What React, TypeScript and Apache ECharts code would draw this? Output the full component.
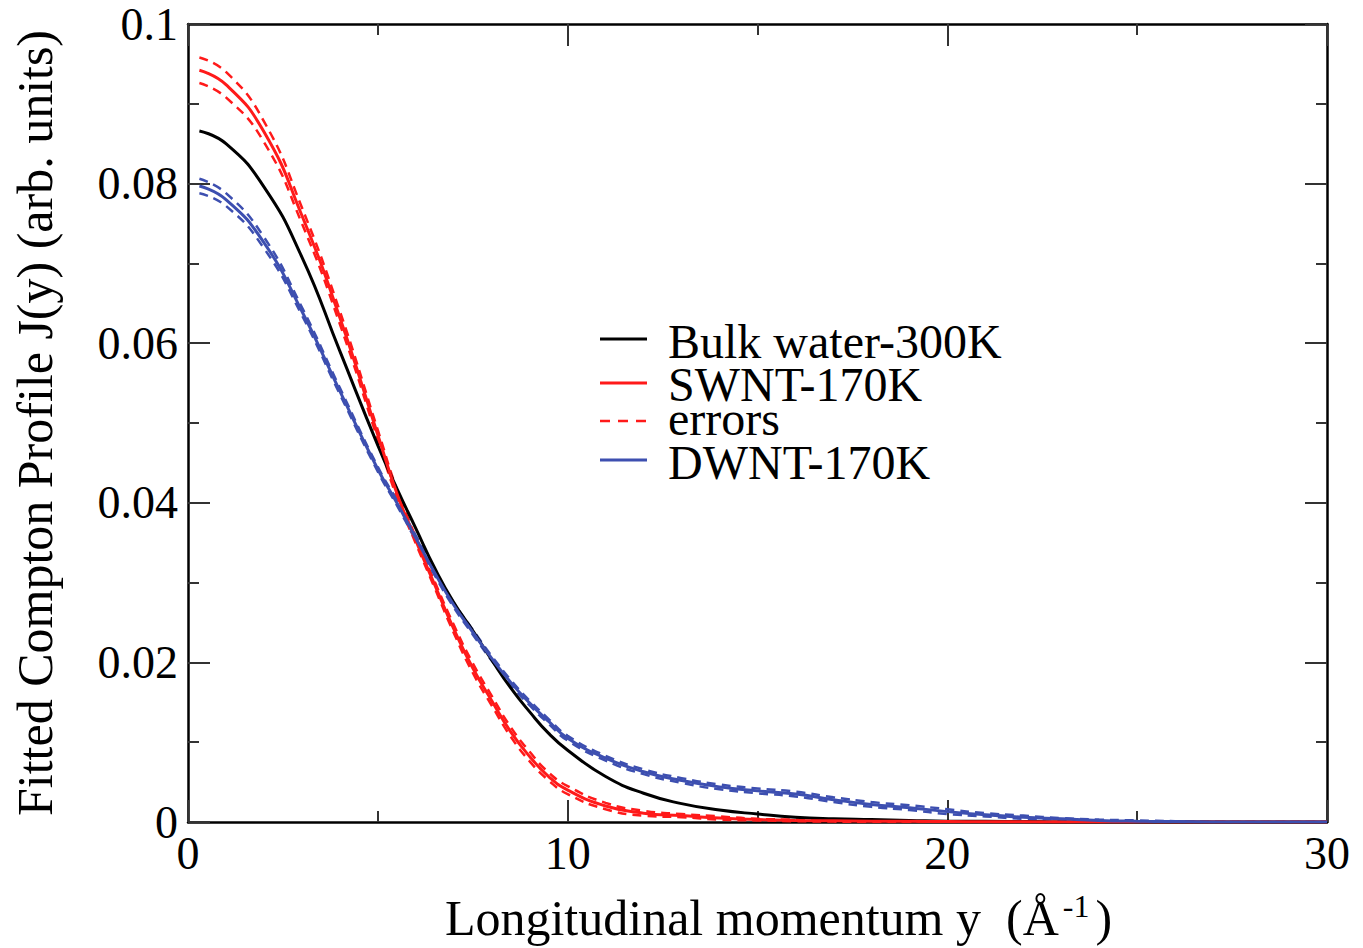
import React, { useEffect, useRef } from "react";
import * as echarts from "echarts";

// Longitudinal momentum y (Å^-1) at which the fitted profiles are sampled
const momentum = [0.3, 1, 2, 3, 4, 5, 5.5, 6, 6.5, 7, 7.5, 8, 8.5, 9, 9.5, 10, 11, 12, 13, 14, 15, 16, 17, 18, 19, 20, 21, 22, 23, 24, 25, 26, 28, 30];

// Fitted Compton profiles J(y)
const bulkWater300K = [0.0866, 0.085, 0.0796, 0.0708, 0.059, 0.0472, 0.0418, 0.0368, 0.0318, 0.0275, 0.024, 0.0203, 0.0168, 0.0138, 0.0111, 0.009, 0.0057, 0.0036, 0.0023, 0.0015, 0.001, 0.0006, 0.0004, 0.0003, 0.0002, 0.0001, 0.0001, 0.00005, 0, 0, 0, 0, 0, 0];
const swnt170K = [0.0942, 0.0924, 0.0865, 0.076, 0.0632, 0.0485, 0.0412, 0.0353, 0.0297, 0.0242, 0.0193, 0.0152, 0.0113, 0.0082, 0.0057, 0.004, 0.002, 0.0011, 0.0008, 0.0005, 0.0003, 0.0002, 0.00015, 0.0001, 0.00008, 0.00005, 0.00003, 0.00002, 0, 0, 0, 0, 0, 0];
const swntUpper = [0.0958, 0.094, 0.0878, 0.077, 0.064, 0.0491, 0.0417, 0.0357, 0.0301, 0.0247, 0.0199, 0.0158, 0.0119, 0.0088, 0.0062, 0.0045, 0.0024, 0.0014, 0.001, 0.0007, 0.0004, 0.0003, 0.0002, 0.00015, 0.0001, 0.0001, 0.00005, 0.00003, 0, 0, 0, 0, 0, 0];
const swntLower = [0.0926, 0.0908, 0.0852, 0.075, 0.0624, 0.0479, 0.0407, 0.0349, 0.0293, 0.0237, 0.0187, 0.0146, 0.0107, 0.0076, 0.0052, 0.0035, 0.0016, 0.0008, 0.0006, 0.0003, 0.0002, 0.0001, 0.00005, 0, 0, 0, 0, 0, 0, 0, 0, 0, 0, 0];
const dwnt170K = [0.0797, 0.078, 0.0726, 0.064, 0.054, 0.0442, 0.04, 0.0356, 0.0312, 0.0272, 0.0238, 0.0205, 0.0175, 0.0149, 0.0126, 0.0105, 0.008, 0.0063, 0.0052, 0.0044, 0.0039, 0.0035, 0.0028, 0.0022, 0.0018, 0.0013, 0.0009, 0.0006, 0.0004, 0.0002, 0.0001, 0.00005, 0, 0];
const dwntUpper = [0.0806, 0.0788, 0.0733, 0.0645, 0.0544, 0.0445, 0.0403, 0.0359, 0.0315, 0.0275, 0.0241, 0.0208, 0.0178, 0.0152, 0.0129, 0.0108, 0.0083, 0.0066, 0.0055, 0.0047, 0.0042, 0.0038, 0.0031, 0.0025, 0.0021, 0.0016, 0.0011, 0.0008, 0.0005, 0.0003, 0.0002, 0.0001, 0, 0];
const dwntLower = [0.0788, 0.0772, 0.0719, 0.0635, 0.0536, 0.0439, 0.0397, 0.0353, 0.0309, 0.0269, 0.0235, 0.0202, 0.0172, 0.0146, 0.0123, 0.0102, 0.0077, 0.006, 0.0049, 0.0041, 0.0036, 0.0032, 0.0025, 0.0019, 0.0015, 0.001, 0.0007, 0.0004, 0.0003, 0.0001, 0, 0, 0, 0];

const FONT = '"Liberation Serif", "Times New Roman", serif';
const BLACK = "#000000";
const RED = "#ff1a1a";
const BLUE = "#3d4fb0";

const toPairs = (ys: number[]) => momentum.map((x, i) => [x, ys[i]]);

const frameAxis = (extra: any) => ({
  type: "value",
  axisLine: { show: true, onZero: false, lineStyle: { color: BLACK, width: 2.5 } },
  axisTick: { show: true, inside: true, length: 22, lineStyle: { color: "#333", width: 2 } },
  minorTick: { show: true, inside: true, splitNumber: 2, length: 11, lineStyle: { color: "#333", width: 2 } },
  splitLine: { show: false },
  minorSplitLine: { show: false },
  ...extra,
});

const line = (name: string, ys: number[], color: string, dashed: boolean) => ({
  name,
  type: "line",
  data: toPairs(ys),
  showSymbol: false,
  symbol: "none",
  smooth: 0.5,
  lineStyle: { color, width: dashed ? 2.5 : 3, type: dashed ? [9, 6] : "solid" },
  itemStyle: { color },
  z: dashed ? 2 : 3,
});

// legend entries are drawn by hand so their rows keep the uneven spacing of the plot
const legendText = (text: string, y: number) => ({
  type: "text",
  x: 668,
  y,
  style: { text, fontFamily: FONT, fontSize: 48, lineHeight: 30, fill: BLACK, verticalAlign: "middle" },
});

export default function App() {
  const ref = useRef<HTMLDivElement>(null);

  useEffect(() => {
    const chart = echarts.init(ref.current as HTMLDivElement, null, { renderer: "svg" });
    const xCommon = { min: 0, max: 30, interval: 10 };
    const yCommon = { min: 0, max: 0.1, interval: 0.02 };

    chart.setOption({
      animation: false,
      backgroundColor: "#ffffff",
      grid: { left: 188, right: 36, top: 24, bottom: 125, containLabel: false },
      xAxis: [
        frameAxis({
          ...xCommon,
          position: "bottom",
          axisLabel: { fontFamily: FONT, fontSize: 46, color: BLACK, margin: 8 },
          name: "{t|Longitudinal momentum y  (Å}{s|-1}{t|)}",
          nameLocation: "middle",
          nameGap: 68,
          nameTextStyle: {
            padding: [0, 0, 0, 42],
            rich: {
              t: { fontFamily: FONT, fontSize: 50, color: BLACK, lineHeight: 56 },
              s: { fontFamily: FONT, fontSize: 32, color: BLACK, verticalAlign: "top", padding: [0, 6, 0, 4] },
            },
          },
        }),
        frameAxis({ ...xCommon, position: "top", axisLabel: { show: false } }),
      ],
      yAxis: [
        frameAxis({
          ...yCommon,
          position: "left",
          axisLabel: {
            fontFamily: FONT,
            fontSize: 46,
            color: BLACK,
            margin: 10,
            formatter: (v: number) => String(+v.toFixed(2)),
          },
          name: "Fitted Compton Profile J(y) (arb. units)",
          nameLocation: "middle",
          nameGap: 128,
          nameTextStyle: { fontFamily: FONT, fontSize: 50, color: BLACK },
        }),
        frameAxis({ ...yCommon, position: "right", axisLabel: { show: false } }),
      ],
      series: [
        line("SWNT-170K errors upper", swntUpper, RED, true),
        line("SWNT-170K errors lower", swntLower, RED, true),
        line("DWNT-170K errors upper", dwntUpper, BLUE, true),
        line("DWNT-170K errors lower", dwntLower, BLUE, true),
        line("Bulk water-300K", bulkWater300K, BLACK, false),
        line("SWNT-170K", swnt170K, RED, false),
        line("DWNT-170K", dwnt170K, BLUE, false),
      ],
      graphic: [
        { type: "line", shape: { x1: 600, y1: 339, x2: 647, y2: 339 }, style: { stroke: BLACK, lineWidth: 3 } },
        { type: "line", shape: { x1: 600, y1: 383, x2: 647, y2: 383 }, style: { stroke: RED, lineWidth: 3 } },
        { type: "line", shape: { x1: 600, y1: 421, x2: 647, y2: 421 }, style: { stroke: RED, lineWidth: 2.5, lineDash: [10, 8] } },
        { type: "line", shape: { x1: 600, y1: 460, x2: 647, y2: 460 }, style: { stroke: BLUE, lineWidth: 3 } },
        legendText("Bulk water-300K", 341),
        legendText("SWNT-170K", 384),
        legendText("errors", 418),
        legendText("DWNT-170K", 462),
      ],
    });

    return () => chart.dispose();
  }, []);

  return <div ref={ref} style={{ position: "fixed", left: 0, top: 0, width: 1363, height: 948 }} />;
}
